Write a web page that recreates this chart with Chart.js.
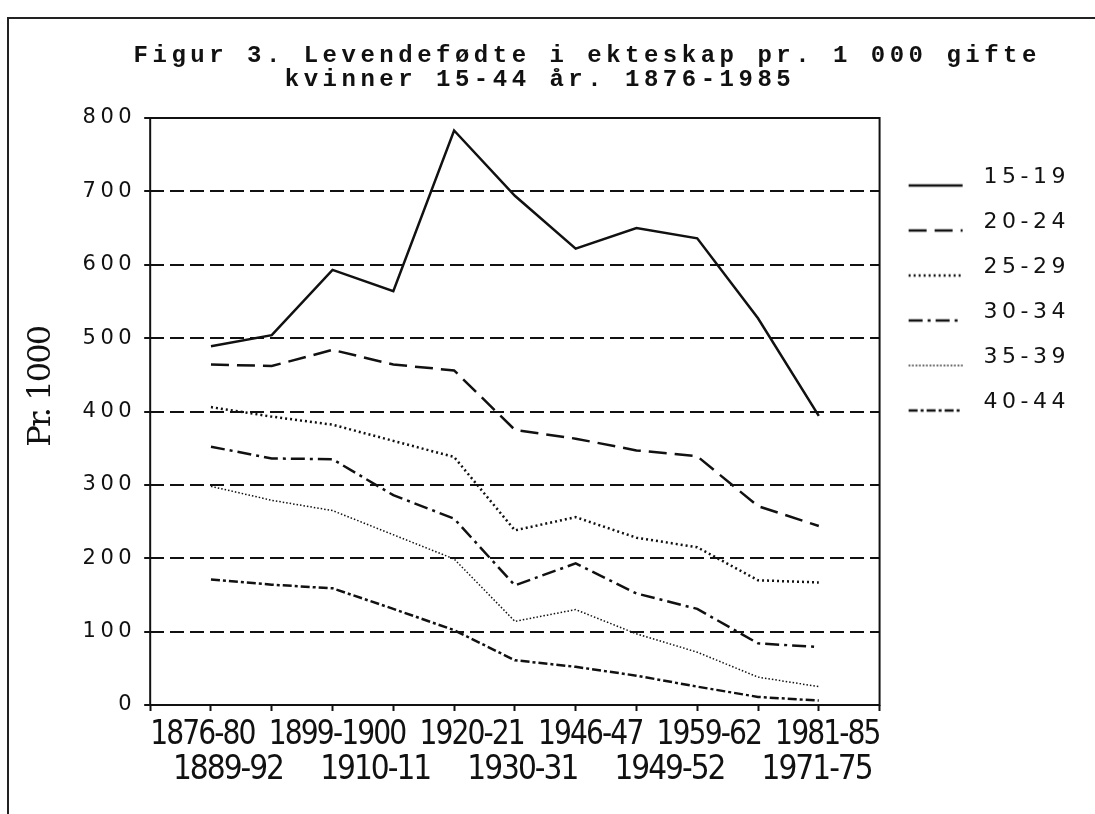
<!DOCTYPE html>
<html>
<head>
<meta charset="utf-8">
<title>Figur 3</title>
<script src="https://cdn.jsdelivr.net/npm/chart.js@4.4.1/dist/chart.umd.min.js"></script>
<style>
  html, body { margin: 0; padding: 0; background: #ffffff; }
  #wrap { position: relative; width: 1095px; height: 814px; overflow: hidden; }
  #page { position: absolute; left: 7px; top: 17px; width: 1200px; height: 900px;
          border-top: 2px solid #222; border-left: 2px solid #222; pointer-events: none; }
</style>
</head>
<body>
<div id="wrap">
  <canvas id="chart" width="1095" height="814"></canvas>
  <div id="page"></div>
</div>
<script>
// ---------------- data ----------------
const CATEGORIES = ['1876-80', '1889-92', '1899-1900', '1910-11', '1920-21', '1930-31',
                    '1946-47', '1949-52', '1959-62', '1971-75', '1981-85'];
const SERIES_NAMES = ['15-19', '20-24', '25-29', '30-34', '35-39', '40-44'];
const AGE_15_19 = [489, 504, 593, 564, 783, 694, 622, 650, 636, 527, 394];
const AGE_20_24 = [464, 462, 484, 464, 456, 375, 363, 347, 339, 271, 244];
const AGE_25_29 = [406, 393, 382, 360, 338, 238, 256, 228, 215, 170, 167];
const AGE_30_34 = [352, 336, 335, 286, 254, 163, 193, 152, 131, 84, 79];
const AGE_35_39 = [298, 279, 265, 232, 199, 114, 130, 97, 72, 38, 25];
const AGE_40_44 = [171, 164, 159, 131, 102, 61, 52, 40, 25, 11, 6];
const Y_MIN = 0, Y_MAX = 800, Y_STEP = 100;
const TITLE_LINES = ['Figur 3. Levendefødte i ekteskap pr. 1 000 gifte', 'kvinner 15-44 år. 1876-1985'];
const Y_TITLE = 'Pr. 1000';

// ---------------- styles ----------------
const SERIES = [AGE_15_19, AGE_20_24, AGE_25_29, AGE_30_34, AGE_35_39, AGE_40_44];
const LINE_STYLES = [
  { dash: [], width: 2.5 },
  { dash: [18, 8], width: 2.5 },
  { dash: [2, 3], width: 2.5 },
  { dash: [14, 5, 3, 5], width: 2.5 },
  { dash: [1.5, 2], width: 1.5 },
  { dash: [9, 3, 3, 3], width: 2.5 }
];
const INK = '#111111';
const LS_A = '4.5px';   // spaced plotter lettering: title, legend, y ticks
const LEGEND_FONT = 22;
const LEGEND_BOX = 70;

// calibrate the lettering of the period rows and the y title from measured glyph widths
const probe = document.createElement('canvas').getContext('2d');
function emWidth(text, family) { probe.font = '100px ' + family; return probe.measureText(text).width / 100; }
const X_FAMILY = "'DejaVu Sans Condensed', 'DejaVu Sans', sans-serif";
const wordEm = emWidth('1876-80', X_FAMILY);
const X_SIZE = wordEm < 3.95 ? 33 : 30;
const LS_B_NUM = (110 - wordEm * X_SIZE) / 7;
const LS_B = LS_B_NUM.toFixed(2) + 'px';
const Y_FAMILY = "'DejaVu Serif', 'Liberation Serif', serif";
const Y_TITLE_SIZE = (120 - 8 * LS_B_NUM) / emWidth(Y_TITLE, Y_FAMILY);
const Y_TITLE_LH = Y_TITLE_SIZE * 1.2;
const Y_TITLE_PAD_TOP = 42 - Y_TITLE_LH / 2;
const Y_TITLE_PAD_BOTTOM = 74.6 - Y_TITLE_PAD_TOP - Y_TITLE_LH;

// two typed rows of period labels under the axis
const ROW_TOP = CATEGORIES.filter((_, i) => i % 2 === 0).join('  ');
const ROW_BOTTOM = '  ' + CATEGORIES.filter((_, i) => i % 2 === 1).join('     ');

// legend key: short line sample sitting at the text baseline
function legendSample(style) {
  const c = document.createElement('canvas');
  c.width = LEGEND_BOX; c.height = LEGEND_FONT;
  const g = c.getContext('2d');
  g.strokeStyle = INK; g.lineWidth = style.width; g.setLineDash(style.dash);
  g.beginPath(); g.moveTo(6, LEGEND_FONT - 3); g.lineTo(60, LEGEND_FONT - 3); g.stroke();
  return c;
}

const spacingPlugin = {
  id: 'letterSpacing',
  beforeLayout(chart) { chart.ctx.letterSpacing = LS_A; },
  afterLayout(chart) { chart.ctx.letterSpacing = '0px'; },
  beforeDraw(chart) { chart.ctx.letterSpacing = LS_A; },
  afterDatasetsDraw(chart) { chart.ctx.letterSpacing = LS_B; },
  afterDraw(chart) { chart.ctx.letterSpacing = '0px'; }
};
const framePlugin = {
  id: 'frame',
  afterDraw(chart) {
    const { ctx, chartArea: a } = chart;
    ctx.save();
    ctx.setLineDash([]);
    ctx.lineWidth = 2;
    ctx.strokeStyle = INK;
    ctx.strokeRect(a.left, a.top, a.right - a.left, a.bottom - a.top);
    ctx.restore();
  }
};

new Chart(document.getElementById('chart'), {
  type: 'line',
  data: {
    labels: ['', ...CATEGORIES, ''],
    datasets: SERIES_NAMES.map((name, k) => ({
      label: name,
      data: SERIES[k].map((v, i) => ({ x: CATEGORIES[i], y: v })),
      borderColor: INK,
      backgroundColor: 'transparent',
      borderWidth: LINE_STYLES[k].width,
      borderDash: LINE_STYLES[k].dash,
      pointRadius: 0,
      pointHoverRadius: 0,
      tension: 0,
      fill: false
    }))
  },
  options: {
    responsive: false,
    animation: false,
    events: [],
    layout: { padding: { left: 0, right: 15, top: 0, bottom: 0 } },
    scales: {
      x: {
        type: 'category',
        offset: false,
        grid: { display: true, drawOnChartArea: false, drawTicks: true, tickLength: 6,
                tickWidth: 2, tickColor: INK, color: INK, z: 1 },
        border: { display: false },
        ticks: { display: false, autoSkip: false },
        title: {
          display: true,
          text: [ROW_TOP, ROW_BOTTOM],
          color: INK,
          font: { family: X_FAMILY, size: X_SIZE, lineHeight: '35px' },
          padding: { top: 6.5, bottom: 26.5 }
        }
      },
      y: {
        type: 'linear',
        min: Y_MIN,
        max: Y_MAX,
        ticks: { stepSize: Y_STEP, color: INK, padding: 8,
                 font: { family: "'DejaVu Sans', sans-serif", size: 21 } },
        grid: { color: INK, lineWidth: 2, tickLength: 6, tickWidth: 2, tickColor: INK,
                tickBorderDash: [], z: 1 },
        border: {
          display: false,
          dash: (c) => (c.tick && c.tick.value !== Y_MIN && c.tick.value !== Y_MAX) ? [14, 6] : []
        },
        title: {
          display: true,
          text: '      ' + Y_TITLE,
          color: INK,
          font: { family: Y_FAMILY, size: Y_TITLE_SIZE, lineHeight: 1.2 },
          padding: { top: Y_TITLE_PAD_TOP, bottom: Y_TITLE_PAD_BOTTOM }
        }
      }
    },
    plugins: {
      title: {
        display: true,
        text: ['     ' + TITLE_LINES[0], TITLE_LINES[1]],
        color: INK,
        font: { family: "'Liberation Mono', 'DejaVu Sans Mono', monospace", size: 24, weight: 'bold', lineHeight: '24px' },
        padding: { top: 44, bottom: 26 }
      },
      legend: {
        display: true,
        position: 'right',
        align: 'start',
        fullSize: false,
        title: { display: true, text: '', font: { size: 10, lineHeight: '12px' }, padding: { top: 6, bottom: 7.5 } },
        labels: {
          usePointStyle: true,
          pointStyleWidth: LEGEND_BOX,
          boxWidth: LEGEND_BOX,
          color: INK,
          padding: 23,
          font: { family: "'DejaVu Sans', sans-serif", size: LEGEND_FONT },
          generateLabels: (chart) => chart.data.datasets.map((ds, i) => ({
            text: ds.label,
            fillStyle: 'transparent',
            strokeStyle: INK,
            fontColor: INK,
            lineWidth: ds.borderWidth,
            lineDash: ds.borderDash,
            pointStyle: legendSample(LINE_STYLES[i]),
            hidden: false,
            datasetIndex: i
          }))
        }
      },
      tooltip: { enabled: false }
    }
  },
  plugins: [spacingPlugin, framePlugin]
});
</script>
</body>
</html>
